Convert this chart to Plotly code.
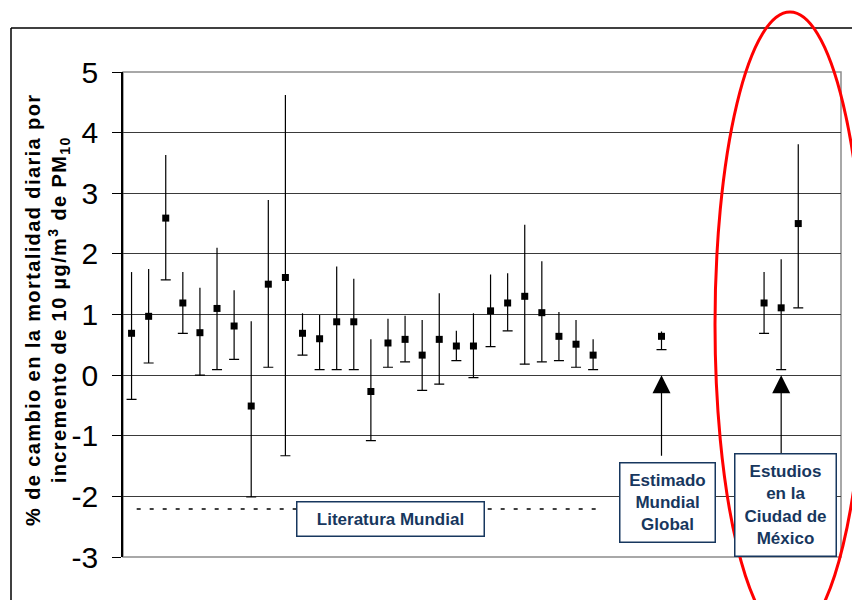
import plotly.graph_objects as go

# ---------------- data ----------------
# Literatura mundial (28 estudios)
lit_idx = list(range(28))
lit_val = [0.69, 0.97, 2.59, 1.19, 0.70, 1.10, 0.81, -0.51, 1.50, 1.61,
           0.69, 0.60, 0.88, 0.88, -0.27, 0.53, 0.59, 0.33, 0.59, 0.48,
           0.48, 1.06, 1.19, 1.30, 1.03, 0.64, 0.51, 0.33]
lit_up = [1.70, 1.75, 3.63, 1.70, 1.44, 2.10, 1.40, 0.89, 2.89, 4.62,
          1.02, 0.99, 1.79, 1.59, 0.59, 0.93, 0.98, 0.91, 1.35, 0.73,
          1.02, 1.66, 1.68, 2.48, 1.88, 1.04, 0.91, 0.59]
lit_lo = [-0.40, 0.20, 1.57, 0.69, 0.00, 0.09, 0.26, -2.01, 0.13, -1.33,
          0.33, 0.09, 0.09, 0.09, -1.08, 0.13, 0.22, -0.25, -0.15, 0.24,
          -0.04, 0.47, 0.73, 0.18, 0.22, 0.24, 0.13, 0.09]

# Estimado mundial global
glob_idx = [31]
glob_val = [0.64]
glob_up = [0.72]
glob_lo = [0.42]

# Estudios en la Ciudad de México
mex_idx = [37, 38, 39]
mex_val = [1.19, 1.11, 2.50]
mex_up = [1.70, 1.91, 3.81]
mex_lo = [0.69, 0.09, 1.11]

y_ticks = [-3, -2, -1, 0, 1, 2, 3, 4, 5]
y_title_1 = "% de cambio en la mortalidad diaria por"
y_title_2 = "incremento de 10 µg/m<sup>3</sup> de PM<sub>10</sub>"
lit_label = "Literatura Mundial"
glob_label = "Estimado<br>Mundial<br>Global"
mex_label = "Estudios<br>en la<br>Ciudad de<br>México"
lit_line_value = -2.21

# ---------------- figure ----------------
W, H = 852, 600
L, R, T, B = 123, 11, 72, 43
PW, PH = W - L - R, H - T - B


def px_x(p):
    return (p - L) / PW


def px_y(p):
    return (H - B - p) / PH


fig = go.Figure()

all_idx = lit_idx + glob_idx + mex_idx
all_val = lit_val + glob_val + mex_val
all_up = lit_up + glob_up + mex_up
all_lo = lit_lo + glob_lo + mex_lo

# full whiskers (no caps)
fig.add_trace(go.Scatter(
    x=all_idx, y=all_val, mode="markers",
    marker=dict(size=1, color="rgba(0,0,0,0)"),
    error_y=dict(type="data", symmetric=False,
                 array=[u - v for u, v in zip(all_up, all_val)],
                 arrayminus=[v - lo for v, lo in zip(all_val, all_lo)],
                 width=0, thickness=1.2, color="black"),
    hoverinfo="skip", showlegend=False))
# caps at the lower bound only
fig.add_trace(go.Scatter(
    x=all_idx, y=all_lo, mode="markers",
    marker=dict(size=1, color="rgba(0,0,0,0)"),
    error_y=dict(type="data", symmetric=False,
                 array=[0] * len(all_lo), arrayminus=[0] * len(all_lo),
                 width=5, thickness=1.2, color="black"),
    hoverinfo="skip", showlegend=False))
# points
fig.add_trace(go.Scatter(
    x=all_idx, y=all_val, mode="markers",
    marker=dict(symbol="square", size=7, color="black"),
    showlegend=False))

shapes = []
# plot-area border (gray)
shapes.append(dict(type="rect", xref="paper", yref="paper", x0=0, x1=1, y0=0, y1=1,
                   line=dict(color="#8c8c8c", width=1.5), layer="below"))
# outer frame
shapes.append(dict(type="line", xref="paper", yref="paper",
                   x0=px_x(11), x1=px_x(860), y0=px_y(28), y1=px_y(28),
                   line=dict(color="black", width=1.5)))
shapes.append(dict(type="line", xref="paper", yref="paper",
                   x0=px_x(11), x1=px_x(11), y0=px_y(28), y1=px_y(610),
                   line=dict(color="black", width=1.5)))
# dashed literature line
shapes.append(dict(type="line", xref="x", yref="y",
                   x0=0.3, x1=27.6, y0=lit_line_value, y1=lit_line_value,
                   line=dict(color="black", width=1.5, dash="4px,9px")))
# red ellipse
shapes.append(dict(type="circle", xref="paper", yref="paper",
                   x0=px_x(715), x1=px_x(865), y0=px_y(637), y1=px_y(12),
                   line=dict(color="#ff0000", width=3)))

navy = "#17375e"
box_font = dict(family="Liberation Sans, Arial, sans-serif",
                size=17, color=navy, weight="bold")

sp = '<span style="letter-spacing:1.4px">{}</span>'
y_title = sp.format(y_title_1) + "<br>" + sp.format(y_title_2)

annotations = [
    dict(text=y_title, xref="paper", yref="paper", x=px_x(47), y=px_y(310),
         xanchor="center", yanchor="middle", textangle=-90, showarrow=False,
         font=dict(family="Liberation Sans, Arial, sans-serif", size=20,
                   color="black", weight="bold")),
    # arrows
    dict(x=glob_idx[0], y=0, xref="x", yref="y", ax=0, ay=82, text="",
         showarrow=True, arrowhead=2, arrowsize=3, arrowwidth=1.2,
         arrowcolor="black"),
    dict(x=38, y=0, xref="x", yref="y", ax=0, ay=80, text="",
         showarrow=True, arrowhead=2, arrowsize=3, arrowwidth=1.2,
         arrowcolor="black"),
    # labelled boxes
    dict(text=lit_label, xref="paper", yref="paper",
         x=px_x(390.5), y=px_y(518.5), xanchor="center", yanchor="middle",
         width=186, height=33, borderpad=0, bordercolor=navy, borderwidth=1.5,
         bgcolor="white", showarrow=False, font=box_font),
    dict(text=glob_label, xref="paper", yref="paper",
         x=px_x(667.5), y=px_y(502.5), xanchor="center", yanchor="middle",
         width=94, height=78, borderpad=0, bordercolor=navy, borderwidth=1.5,
         bgcolor="white", showarrow=False, font=box_font),
    dict(text=mex_label, xref="paper", yref="paper",
         x=px_x(785.5), y=px_y(505), xanchor="center", yanchor="middle",
         width=100, height=101, borderpad=0, bordercolor=navy, borderwidth=1.5,
         bgcolor="white", showarrow=False, font=box_font),
]

fig.update_layout(
    width=W, height=H,
    margin=dict(l=L, r=R, t=T, b=B, pad=0),
    paper_bgcolor="white", plot_bgcolor="white",
    shapes=shapes, annotations=annotations,
    showlegend=False,
    xaxis=dict(range=[-0.5, 41.5], showticklabels=False, showgrid=False,
               zeroline=False, showline=False, ticks="", fixedrange=True),
    yaxis=dict(range=[-3, 5], tickvals=y_ticks, ticktext=[str(v) for v in y_ticks],
               showgrid=True, gridcolor="#3a3a3a", gridwidth=1,
               zeroline=False, showline=True, linecolor="black", linewidth=1.5,
               ticks="outside", ticklen=9, tickcolor="black", tickwidth=1,
               ticklabelstandoff=8,
               tickfont=dict(family="Liberation Sans, Arial, sans-serif",
                             size=30, color="black")),
)

fig.write_html("out.html")
